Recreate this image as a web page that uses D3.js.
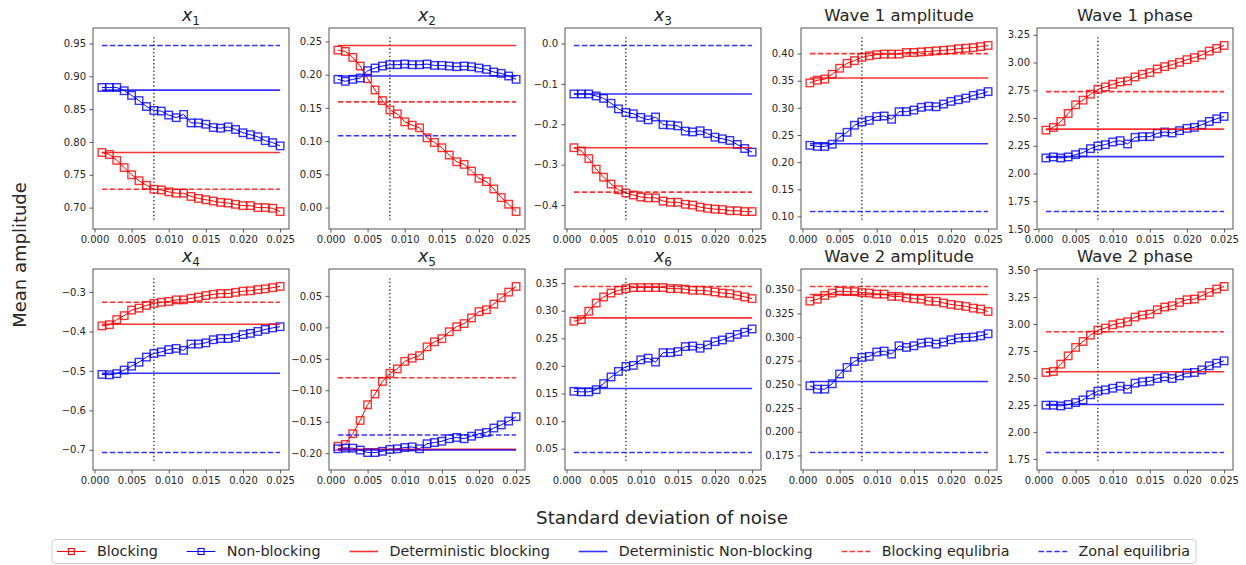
<!DOCTYPE html>
<html>
<head>
<meta charset="utf-8">
<script src="https://cdn.jsdelivr.net/npm/d3@7"></script>
<style>
  body { margin: 0; background: #fff; }
  svg { font-family: "DejaVu Sans", sans-serif; }
</style>
</head>
<body>
<svg id="chart" width="1246" height="565"></svg>
<script>
// Noise standard deviations of the experiments
const noise = [0.001, 0.002, 0.003, 0.004, 0.005, 0.006, 0.007, 0.008, 0.009, 0.010,
               0.011, 0.012, 0.013, 0.014, 0.015, 0.016, 0.017, 0.018, 0.019, 0.020,
               0.021, 0.022, 0.023, 0.024, 0.025];
const criticalNoise = 0.008;

const panelTitles = ["x_1", "x_2", "x_3", "Wave 1 amplitude", "Wave 1 phase",
                     "x_4", "x_5", "x_6", "Wave 2 amplitude", "Wave 2 phase"];

// Mean amplitude in blocked / non-blocked states, per variable
const blockingX1 = [0.784,0.781,0.772,0.761,0.750,0.741,0.734,0.728,0.727,0.724,0.722,0.722,0.717,0.714,0.712,0.710,0.708,0.707,0.705,0.703,0.703,0.700,0.700,0.699,0.694];
const nonBlockingX1 = [0.883,0.883,0.883,0.878,0.871,0.863,0.854,0.848,0.847,0.841,0.837,0.842,0.829,0.829,0.827,0.822,0.821,0.823,0.819,0.814,0.811,0.808,0.802,0.799,0.794];

const blockingX2 = [0.237,0.235,0.226,0.213,0.194,0.177,0.161,0.147,0.141,0.129,0.124,0.120,0.105,0.098,0.090,0.079,0.069,0.065,0.055,0.044,0.039,0.028,0.015,0.005,-0.006];
const nonBlockingX2 = [0.193,0.190,0.193,0.195,0.206,0.210,0.213,0.215,0.215,0.216,0.215,0.215,0.216,0.214,0.214,0.213,0.212,0.213,0.212,0.210,0.208,0.204,0.202,0.198,0.193];

const blockingX3 = [-0.258,-0.266,-0.285,-0.311,-0.331,-0.348,-0.362,-0.370,-0.375,-0.380,-0.382,-0.382,-0.390,-0.393,-0.393,-0.398,-0.400,-0.405,-0.408,-0.410,-0.411,-0.414,-0.414,-0.416,-0.416];
const nonBlockingX3 = [-0.125,-0.125,-0.125,-0.130,-0.136,-0.148,-0.162,-0.171,-0.174,-0.183,-0.189,-0.182,-0.201,-0.202,-0.204,-0.217,-0.219,-0.216,-0.223,-0.232,-0.236,-0.240,-0.250,-0.260,-0.269];

const blockingW1Amp = [0.346,0.351,0.353,0.362,0.373,0.382,0.387,0.393,0.396,0.398,0.399,0.399,0.399,0.402,0.402,0.403,0.404,0.405,0.406,0.407,0.409,0.410,0.411,0.413,0.415];
const nonBlockingW1Amp = [0.231,0.229,0.229,0.233,0.246,0.255,0.268,0.274,0.277,0.284,0.285,0.279,0.293,0.293,0.296,0.301,0.303,0.302,0.307,0.312,0.315,0.318,0.323,0.326,0.330];

const blockingW1Phase = [2.391,2.415,2.469,2.541,2.619,2.661,2.715,2.759,2.780,2.804,2.825,2.834,2.870,2.894,2.909,2.942,2.963,2.981,3.002,3.026,3.044,3.068,3.103,3.127,3.154];
const nonBlockingW1Phase = [2.140,2.149,2.140,2.149,2.170,2.188,2.224,2.248,2.260,2.284,2.296,2.266,2.326,2.332,2.332,2.362,2.374,2.365,2.386,2.407,2.416,2.439,2.469,2.493,2.514];

const blockingX4 = [-0.386,-0.383,-0.370,-0.360,-0.346,-0.341,-0.334,-0.329,-0.326,-0.324,-0.320,-0.320,-0.316,-0.313,-0.309,-0.306,-0.304,-0.304,-0.301,-0.298,-0.297,-0.294,-0.292,-0.289,-0.286];
const nonBlockingX4 = [-0.509,-0.510,-0.507,-0.498,-0.488,-0.478,-0.465,-0.456,-0.452,-0.446,-0.443,-0.448,-0.432,-0.432,-0.429,-0.421,-0.418,-0.418,-0.415,-0.408,-0.405,-0.400,-0.395,-0.391,-0.388];

const blockingX5 = [-0.189,-0.186,-0.169,-0.148,-0.123,-0.106,-0.086,-0.073,-0.066,-0.054,-0.049,-0.045,-0.031,-0.023,-0.018,-0.007,0.001,0.006,0.015,0.025,0.028,0.037,0.047,0.056,0.065];
const nonBlockingX5 = [-0.193,-0.192,-0.192,-0.195,-0.199,-0.199,-0.197,-0.194,-0.193,-0.191,-0.190,-0.193,-0.185,-0.183,-0.181,-0.177,-0.175,-0.177,-0.173,-0.169,-0.167,-0.160,-0.155,-0.149,-0.142];

const blockingX6 = [0.281,0.284,0.299,0.314,0.325,0.332,0.337,0.340,0.342,0.342,0.342,0.342,0.342,0.340,0.340,0.339,0.337,0.337,0.336,0.334,0.332,0.331,0.328,0.325,0.322];
const nonBlockingX6 = [0.154,0.153,0.153,0.157,0.168,0.180,0.190,0.199,0.201,0.211,0.214,0.207,0.224,0.224,0.226,0.235,0.236,0.232,0.238,0.244,0.247,0.252,0.257,0.261,0.267];

const blockingW2Amp = [0.338,0.340,0.344,0.3465,0.3486,0.348,0.348,0.347,0.3465,0.3454,0.3454,0.343,0.343,0.3415,0.3405,0.340,0.338,0.3377,0.336,0.3345,0.3335,0.3324,0.3306,0.3296,0.327];
const nonBlockingW2Amp = [0.2486,0.245,0.245,0.2507,0.261,0.268,0.2743,0.2785,0.2796,0.2842,0.2852,0.282,0.2908,0.2891,0.2908,0.2937,0.2947,0.2926,0.2947,0.2972,0.299,0.2996,0.300,0.3014,0.3035];

const blockingW2Phase = [2.551,2.560,2.628,2.705,2.783,2.838,2.897,2.943,2.962,2.993,3.008,3.021,3.064,3.083,3.092,3.132,3.157,3.169,3.200,3.225,3.231,3.262,3.293,3.324,3.348];
const nonBlockingW2Phase = [2.248,2.248,2.241,2.254,2.272,2.297,2.344,2.378,2.390,2.405,2.424,2.396,2.452,2.464,2.470,2.495,2.510,2.495,2.520,2.545,2.551,2.575,2.613,2.637,2.659];

// Reference levels per variable (same panel order as the titles)
const detBlocking    = [0.784, 0.244, -0.258, 0.355, 2.400, -0.382, -0.194, 0.287, 0.345, 2.557];
const detNonBlocking = [0.879, 0.198, -0.125, 0.234, 2.152, -0.506, -0.195, 0.159, 0.253, 2.254];
const blockingEq     = [0.728, 0.159, -0.368, 0.400, 2.738, -0.326, -0.080, 0.344, 0.3535, 2.928];
const zonalEq        = [0.947, 0.108, -0.005, 0.109, 1.657, -0.707, -0.171, 0.043, 0.178, 1.809];

// Axis tick labels
const xTickLabels = ["0.000", "0.005", "0.010", "0.015", "0.020", "0.025"];
const yTickLabels = [
  ["0.70", "0.75", "0.80", "0.85", "0.90", "0.95"],
  ["0.00", "0.05", "0.10", "0.15", "0.20", "0.25"],
  ["\u22120.4", "\u22120.3", "\u22120.2", "\u22120.1", "0.0"],
  ["0.10", "0.15", "0.20", "0.25", "0.30", "0.35", "0.40"],
  ["1.50", "1.75", "2.00", "2.25", "2.50", "2.75", "3.00", "3.25"],
  ["\u22120.7", "\u22120.6", "\u22120.5", "\u22120.4", "\u22120.3"],
  ["\u22120.20", "\u22120.15", "\u22120.10", "\u22120.05", "0.00", "0.05"],
  ["0.05", "0.10", "0.15", "0.20", "0.25", "0.30", "0.35"],
  ["0.175", "0.200", "0.225", "0.250", "0.275", "0.300", "0.325", "0.350"],
  ["1.75", "2.00", "2.25", "2.50", "2.75", "3.00", "3.25", "3.50"]
];

const legendLabels = ["Blocking", "Non-blocking", "Deterministic blocking",
                      "Deterministic Non-blocking", "Blocking equlibria", "Zonal equilibria"];

const blockingSeries = [blockingX1, blockingX2, blockingX3, blockingW1Amp, blockingW1Phase,
                        blockingX4, blockingX5, blockingX6, blockingW2Amp, blockingW2Phase];
const nonBlockingSeries = [nonBlockingX1, nonBlockingX2, nonBlockingX3, nonBlockingW1Amp, nonBlockingW1Phase,
                           nonBlockingX4, nonBlockingX5, nonBlockingX6, nonBlockingW2Amp, nonBlockingW2Phase];

// ---- drawing ----
const RED = "#ff0000", BLUE = "#0000ff";
const panelW = 196, panelH = 201;
const colLeft = c => 93 + c * 236;
const rowTop = [28, 269];
const parseTick = s => +s.replace("\u2212", "-");
const svg = d3.select("#chart");

const xPad = (noise[noise.length - 1] - noise[0]) * 0.05;

panelTitles.forEach((title, i) => {
  const col = i % 5, row = Math.floor(i / 5);
  const g = svg.append("g").attr("transform", `translate(${colLeft(col)},${rowTop[row]})`);

  const blk = blockingSeries[i], nbl = nonBlockingSeries[i];
  const levels = [detBlocking[i], detNonBlocking[i], blockingEq[i], zonalEq[i]];
  const [lo, hi] = d3.extent([...blk, ...nbl, ...levels]);
  const vLo = lo - 0.05 * (hi - lo), vHi = hi + 0.05 * (hi - lo);
  const yPad = (vHi - vLo) * 0.05;

  const x = d3.scaleLinear()
    .domain([noise[0] - xPad, noise[noise.length - 1] + xPad])
    .range([0, panelW]);
  const y = d3.scaleLinear().domain([vLo - yPad, vHi + yPad]).range([panelH, 0]);

  // axes
  const xAxis = d3.axisBottom(x)
    .tickValues(xTickLabels.map(parseTick))
    .tickFormat((d, j) => xTickLabels[j])
    .tickSize(3.5).tickPadding(3.5);
  const yAxis = d3.axisLeft(y)
    .tickValues(yTickLabels[i].map(parseTick))
    .tickFormat((d, j) => yTickLabels[i][j])
    .tickSize(3.5).tickPadding(3.5);

  const gx = g.append("g").attr("transform", `translate(0,${panelH})`).call(xAxis);
  const gy = g.append("g").call(yAxis);
  [gx, gy].forEach(a => {
    a.select(".domain").remove();
    a.selectAll(".tick line").attr("stroke", "#333").attr("stroke-width", 0.8);
    a.selectAll(".tick text").attr("fill", "#262626")
      .attr("font-size", 10).attr("font-family", "DejaVu Sans");
  });

  const clipId = `clip${i}`;
  g.append("clipPath").attr("id", clipId)
    .append("rect").attr("width", panelW).attr("height", panelH);
  const plot = g.append("g").attr("clip-path", `url(#${clipId})`);

  const line = d3.line().x((d, j) => x(noise[j])).y(d => y(d));

  // noisy model series
  [[blk, RED], [nbl, BLUE]].forEach(([vals, color]) => {
    plot.append("path").attr("d", line(vals))
      .attr("fill", "none").attr("stroke", color).attr("stroke-width", 1);
    plot.selectAll(null).data(vals).enter().append("rect")
      .attr("x", (d, j) => x(noise[j]) - 3.75)
      .attr("y", d => y(d) - 3.75)
      .attr("width", 7.5).attr("height", 7.5)
      .attr("fill", "none").attr("stroke", color)
      .attr("stroke-width", 1.4).attr("stroke-opacity", 0.8);
  });

  // horizontal reference levels
  const x0 = x(noise[0]), x1 = x(noise[noise.length - 1]);
  [[detBlocking[i], RED, null], [detNonBlocking[i], BLUE, null],
   [blockingEq[i], RED, "5.5,2.4"], [zonalEq[i], BLUE, "5.5,2.4"]].forEach(([v, color, dash]) => {
    plot.append("line")
      .attr("x1", x0).attr("x2", x1).attr("y1", y(v)).attr("y2", y(v))
      .attr("stroke", color).attr("stroke-width", 1.6).attr("stroke-opacity", 0.8)
      .attr("stroke-dasharray", dash);
  });

  // critical noise level
  plot.append("line")
    .attr("x1", x(criticalNoise)).attr("x2", x(criticalNoise))
    .attr("y1", y(vLo)).attr("y2", y(vHi))
    .attr("stroke", "#333").attr("stroke-width", 1.4)
    .attr("stroke-dasharray", "1.4,2.3");

  // frame
  g.append("rect").attr("width", panelW).attr("height", panelH)
    .attr("fill", "none").attr("stroke", "#444").attr("stroke-width", 0.9);

  // title
  const t = g.append("text").attr("x", panelW / 2).attr("y", -7)
    .attr("text-anchor", "middle").attr("font-size", 16.5).attr("fill", "#262626");
  if (title.startsWith("x_")) {
    t.append("tspan").attr("font-style", "italic").attr("font-size", 17.5).text("x");
    t.append("tspan").attr("font-size", 12).attr("dy", 3.5).text(title.slice(2));
  } else {
    t.text(title);
  }
});

// shared axis labels
svg.append("text")
  .attr("transform", "translate(25.5,255) rotate(-90)")
  .attr("text-anchor", "middle").attr("font-size", 18).attr("fill", "#262626")
  .text("Mean amplitude");
svg.append("text")
  .attr("x", 662).attr("y", 524)
  .attr("text-anchor", "middle").attr("font-size", 18.3).attr("fill", "#262626")
  .text("Standard deviation of noise");

// legend
const legend = svg.append("g");
const legendBox = legend.append("rect")
  .attr("x", 52).attr("y", 539.5).attr("height", 24).attr("rx", 3)
  .attr("fill", "#fff").attr("stroke", "#d0d0d0").attr("stroke-width", 1);
const legendStyles = [
  { color: RED, marker: true, dash: null },
  { color: BLUE, marker: true, dash: null },
  { color: RED, marker: false, dash: null },
  { color: BLUE, marker: false, dash: null },
  { color: RED, marker: false, dash: "5.5,2.4" },
  { color: BLUE, marker: false, dash: "5.5,2.4" }
];
const legendFont = 14.3, handleLen = 28.6, handlePad = 11.4, colGap = 29;
let cursor = 57;
const ly = 551.5;
legendLabels.forEach((label, k) => {
  const s = legendStyles[k];
  legend.append("line").attr("x1", cursor).attr("x2", cursor + handleLen)
    .attr("y1", ly).attr("y2", ly)
    .attr("stroke", s.color).attr("stroke-width", s.marker ? 1 : 1.6)
    .attr("stroke-opacity", s.marker ? 1 : 0.8)
    .attr("stroke-dasharray", s.dash);
  if (s.marker) {
    legend.append("rect").attr("x", cursor + handleLen / 2 - 3).attr("y", ly - 3)
      .attr("width", 6).attr("height", 6)
      .attr("fill", "none").attr("stroke", s.color).attr("stroke-width", 1.1);
  }
  const txt = legend.append("text").attr("x", cursor + handleLen + handlePad).attr("y", ly + 4.8)
    .attr("font-size", legendFont).attr("fill", "#262626").text(label);
  cursor += handleLen + handlePad + txt.node().getComputedTextLength() + colGap;
});
legendBox.attr("width", cursor - colGap + 6 - 52);
</script>
</body>
</html>
